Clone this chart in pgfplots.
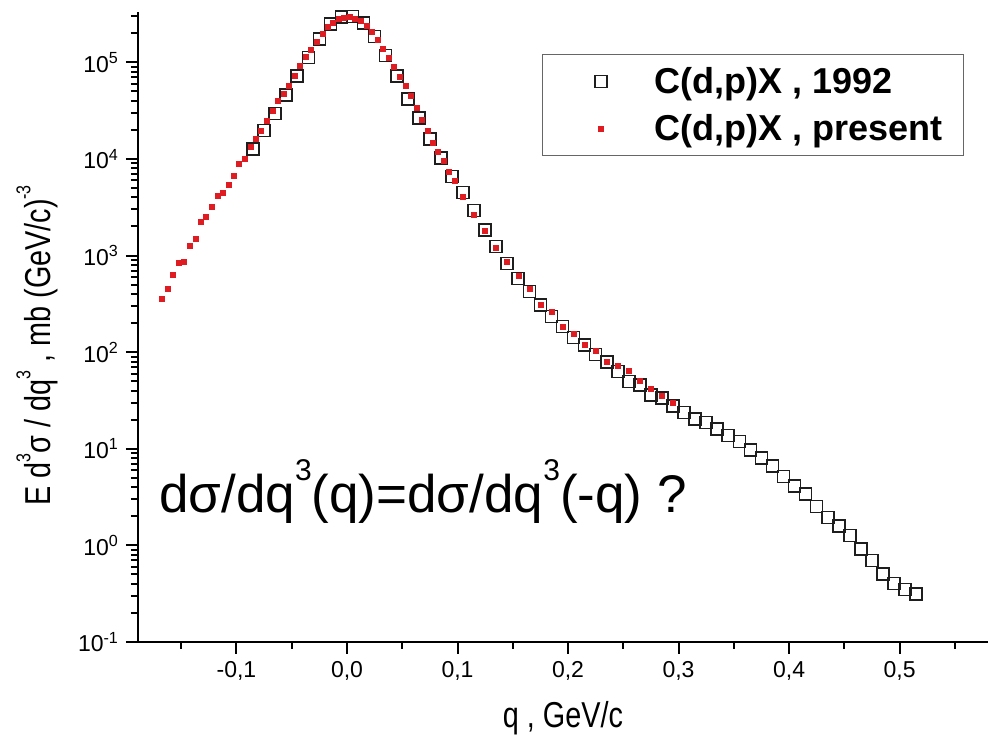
\documentclass[border=0pt]{standalone}
\usepackage{pgfplots}
\pgfplotsset{compat=1.18}
\usepackage{fontspec}
\setmainfont{Liberation Sans}
\definecolor{dotred}{RGB}{222,28,34}
\definecolor{sqblack}{RGB}{30,30,30}
\newcommand{\sq}[2]{\raisebox{#2}{\fontsize{#1}{#1}\selectfont 3}}
\begin{document}
\begin{tikzpicture}
\begin{axis}[
  scale only axis, width=425pt, height=315pt,
  ymode=log,
  xmin=-0.1891, xmax=0.580, ymin=0.1, ymax=3.32e5,
  axis x line=bottom, axis y line=left,
  axis line style={-, line width=1pt, black},
  tick align=outside,
  tick style={line width=1pt, black},
  major tick length=6pt, minor tick length=3.5pt,
  xtick={-0.1,0,0.1,0.2,0.3,0.4,0.5},
  xticklabels={{-0,1},{0,0},{0,1},{0,2},{0,3},{0,4},{0,5}},
  minor xtick={-0.15,-0.05,0.05,0.15,0.25,0.35,0.45,0.55},
  ytick={0.1,1,10,100,1000,10000,100000},
  yticklabels={10\textsuperscript{-1},10\textsuperscript{0},10\textsuperscript{1},10\textsuperscript{2},10\textsuperscript{3},10\textsuperscript{4},10\textsuperscript{5}},
  minor ytick={0.2,0.3,0.4,0.5,0.6,0.7,0.8,0.9,2,3,4,5,6,7,8,9,20,30,40,50,60,70,80,90,200,300,400,500,600,700,800,900,2000,3000,4000,5000,6000,7000,8000,9000,20000,30000,40000,50000,60000,70000,80000,90000,200000,300000},
  tick label style={font=\fontsize{11.5}{13}\selectfont},
  xlabel={q , GeV/c},
  ylabel={E d\sq{10}{0.55em}σ / dq\sq{10}{0.55em} , mb (GeV/c)\raisebox{0.55em}{\fontsize{10}{10}\selectfont -3}},
  label style={font=\fontsize{18}{21}\selectfont},
  xlabel style={at={(axis description cs:0.5,-0.1206)}, anchor=center, xscale=0.8},
  ylabel style={at={(axis description cs:-0.1188,0.471)}, anchor=center, xscale=0.8},
  legend style={at={(axis description cs:0.4753,0.9333)}, anchor=north west,
    draw=gray!80!black, line width=0.6pt,
    font=\bfseries\fontsize{18}{21}\selectfont,
    inner xsep=10.5pt, inner ysep=6pt, row sep=8.5pt, column sep=17pt,
    nodes={inner sep=0pt, text height=13.5pt, text depth=1.5pt}},
  legend cell align=left,
  legend image code/.code={\path (0pt,0pt) (28pt,0pt); \draw[#1] plot coordinates {(18.5pt,0pt)};},
]
\addplot[only marks, color=sqblack, mark=square, mark size=3pt, mark options={draw=sqblack, line width=0.8pt}] coordinates {
(-0.085,12700) (-0.075,19700) (-0.065,29600) (-0.055,46200) (-0.045,72100)
(-0.035,112000) (-0.025,174000) (-0.015,249000) (-0.005,294000) (0.005,299000)
(0.015,255000) (0.025,185000) (0.035,118000) (0.045,72600) (0.055,42000)
(0.065,26500) (0.075,16200) (0.085,10200) (0.095,6580) (0.105,4500)
(0.115,2920) (0.125,1845) (0.135,1240) (0.145,826) (0.155,578)
(0.165,424) (0.175,307) (0.185,234) (0.195,184) (0.205,142)
(0.215,119) (0.225,95) (0.235,79) (0.245,63) (0.255,49.6)
(0.265,45.8) (0.275,36.1) (0.285,33.4) (0.295,27.8) (0.305,23.7)
(0.315,20.2) (0.325,18.7) (0.335,16.1) (0.345,13.7) (0.355,11.9)
(0.365,9.73) (0.375,7.98) (0.385,6.64) (0.395,5.15) (0.405,4.12)
(0.415,3.41) (0.425,2.52) (0.435,1.95) (0.445,1.59) (0.455,1.26)
(0.465,0.918) (0.475,0.695) (0.485,0.506) (0.495,0.405) (0.505,0.351)
(0.515,0.314)
};
\addlegendentry{C(d,p)X , 1992}
\addplot[only marks, color=dotred, mark=square*, mark size=1.25pt, mark options={draw=dotred, fill=dotred, line width=0pt}] coordinates {
(-0.1673,354) (-0.1619,455) (-0.1574,627) (-0.1522,834) (-0.1474,861)
(-0.1422,1251) (-0.1370,1500) (-0.1322,2218) (-0.1274,2518) (-0.1223,3172)
(-0.1171,4120) (-0.1123,4462) (-0.1072,5400) (-0.1024,6690) (-0.0976,8910)
(-0.0924,10100) (-0.0872,13250) (-0.0824,16060) (-0.0776,19550) (-0.0725,25000)
(-0.0673,31000) (-0.0622,39400) (-0.0573,46900) (-0.0522,57200) (-0.0471,72600)
(-0.0423,90600) (-0.0371,112500) (-0.0323,135000) (-0.0269,164000) (-0.0220,196000)
(-0.0172,230000) (-0.0124,255000) (-0.0075,283000) (-0.0024,287000) (0.0027,294000)
(0.0075,283000) (0.0127,270000) (0.0178,239000) (0.0226,206000) (0.0278,170000)
(0.0326,138000) (0.0377,112000) (0.0429,88500) (0.0480,70300) (0.0531,57200)
(0.0580,44400) (0.0631,33600) (0.0680,25600) (0.0730,19500) (0.0780,14800)
(0.0825,11800) (0.0878,9570) (0.0927,7310) (0.0980,5850) (0.1054,4030)
(0.1150,2660) (0.1247,1800) (0.1352,1200) (0.1452,867) (0.1555,616)
(0.1655,455) (0.1754,307) (0.1854,259) (0.1954,183) (0.2056,155)
(0.2156,118) (0.2252,103) (0.2352,79) (0.2452,72) (0.2555,64)
(0.2655,50) (0.2752,41.4) (0.2850,35.2) (0.2950,29.6)
};
\addlegendentry{C(d,p)X , present}
\node[anchor=base east, inner sep=0pt, font=\fontsize{26.5}{30}\selectfont] at (axis cs:0.3077,2.17) {dσ/dq\sq{15}{0.62em}(q)=dσ/dq\sq{15}{0.62em}(-q) ?};
\end{axis}
\pgfresetboundingbox
\path ([xshift=-69pt,yshift=-51.5pt]current axis.south west) rectangle ([yshift=6pt]current axis.north east);
\end{tikzpicture}
\end{document}
